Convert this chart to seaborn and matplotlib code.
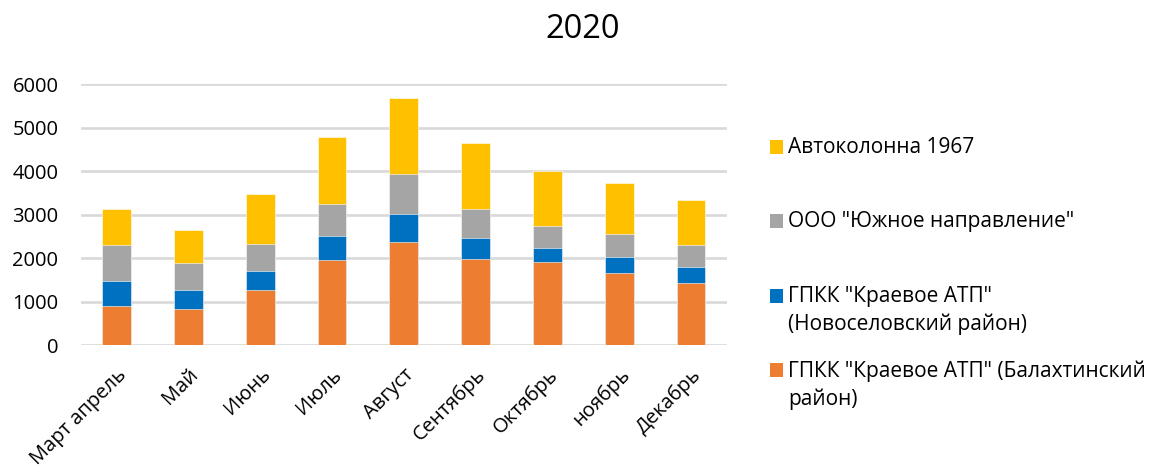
import matplotlib
matplotlib.use("Agg")
import matplotlib.pyplot as plt
from matplotlib.patches import Rectangle
import numpy as np
import seaborn as sns

categories = ["Март апрель", "Май", "Июнь", "Июль", "Август",
              "Сентябрь", "Октябрь", "ноябрь", "Декабрь"]
balakhta = [900, 830, 1270, 1970, 2370, 1975, 1915, 1660, 1440]
novoselovo = [575, 430, 440, 530, 650, 490, 330, 365, 350]
yuzhnoe = [820, 620, 620, 745, 920, 675, 490, 535, 505]
avtokolonna = [835, 760, 1140, 1540, 1740, 1515, 1270, 1165, 1035]

series_labels = [
    'ГПКК "Краевое АТП" (Балахтинский\nрайон)',
    'ГПКК "Краевое АТП"\n(Новоселовский район)',
    'ООО "Южное направление"',
    'Автоколонна 1967',
]
series_values = [balakhta, novoselovo, yuzhnoe, avtokolonna]
series_colors = ["#ED7D31", "#0070C0", "#A5A5A5", "#FFC000"]
title = "2020"
y_ticks = [0, 1000, 2000, 3000, 4000, 5000, 6000]

sns.set_theme(style="white")
plt.rcParams["font.family"] = ["Open Sans", "DejaVu Sans"]

W, H = 1149, 466
fig = plt.figure(figsize=(W / 100, H / 100), dpi=100)
ax = fig.add_axes([80.7 / W, 1 - 345.3 / H, (727 - 80.7) / W, (345.3 - 84) / H])

grid_color = "#D9D9D9"
for yv in y_ticks:
    ax.axhline(yv, color=grid_color, lw=1.9, zorder=0)

# Stack the series: draw cumulative totals from the top layer down
cum = np.cumsum(np.array(series_values, dtype=float), axis=0)
for i in range(len(series_values) - 1, -1, -1):
    sns.barplot(x=categories, y=cum[i], color=series_colors[i], width=0.4,
                saturation=1, edgecolor="white", linewidth=0.4, ax=ax, zorder=2)

ax.set_ylim(0, 6000)
ax.set_xlim(-0.5, len(categories) - 0.5)
ax.set_yticks(y_ticks)
ax.set_yticklabels([str(v) for v in y_ticks], fontsize=14.5, color="#000000")
ax.tick_params(axis="y", length=0, pad=16)
ax.tick_params(axis="x", length=0, pad=14)
ax.set_xticks(range(len(categories)))
ax.set_xticklabels(categories, rotation=45, ha="right", va="top",
                   rotation_mode="anchor", fontsize=14.5, color="#000000")
ax.set_xlabel("")
ax.set_ylabel("")
for s in ax.spines.values():
    s.set_visible(False)

fig.text(582.5 / W, 1 - 29 / H, title, ha="center", va="center",
         fontsize=23.5, color="#000000")

# Legend, top layer first, square aligned with the first text line
legend_rows = [(3, 147), (2, 221), (1, 296), (0, 370)]
for idx, yc in legend_rows:
    sq = 13.5
    fig.add_artist(Rectangle((769.5 / W, 1 - (yc + sq / 2) / H), sq / W, sq / H,
                             transform=fig.transFigure, color=series_colors[idx],
                             lw=0))
    fig.text(788 / W, 1 - (yc - 10) / H, series_labels[idx], ha="left", va="top",
             fontsize=15, color="#000000", linespacing=1.4)

fig.savefig("out.png", dpi=100, facecolor="white")
